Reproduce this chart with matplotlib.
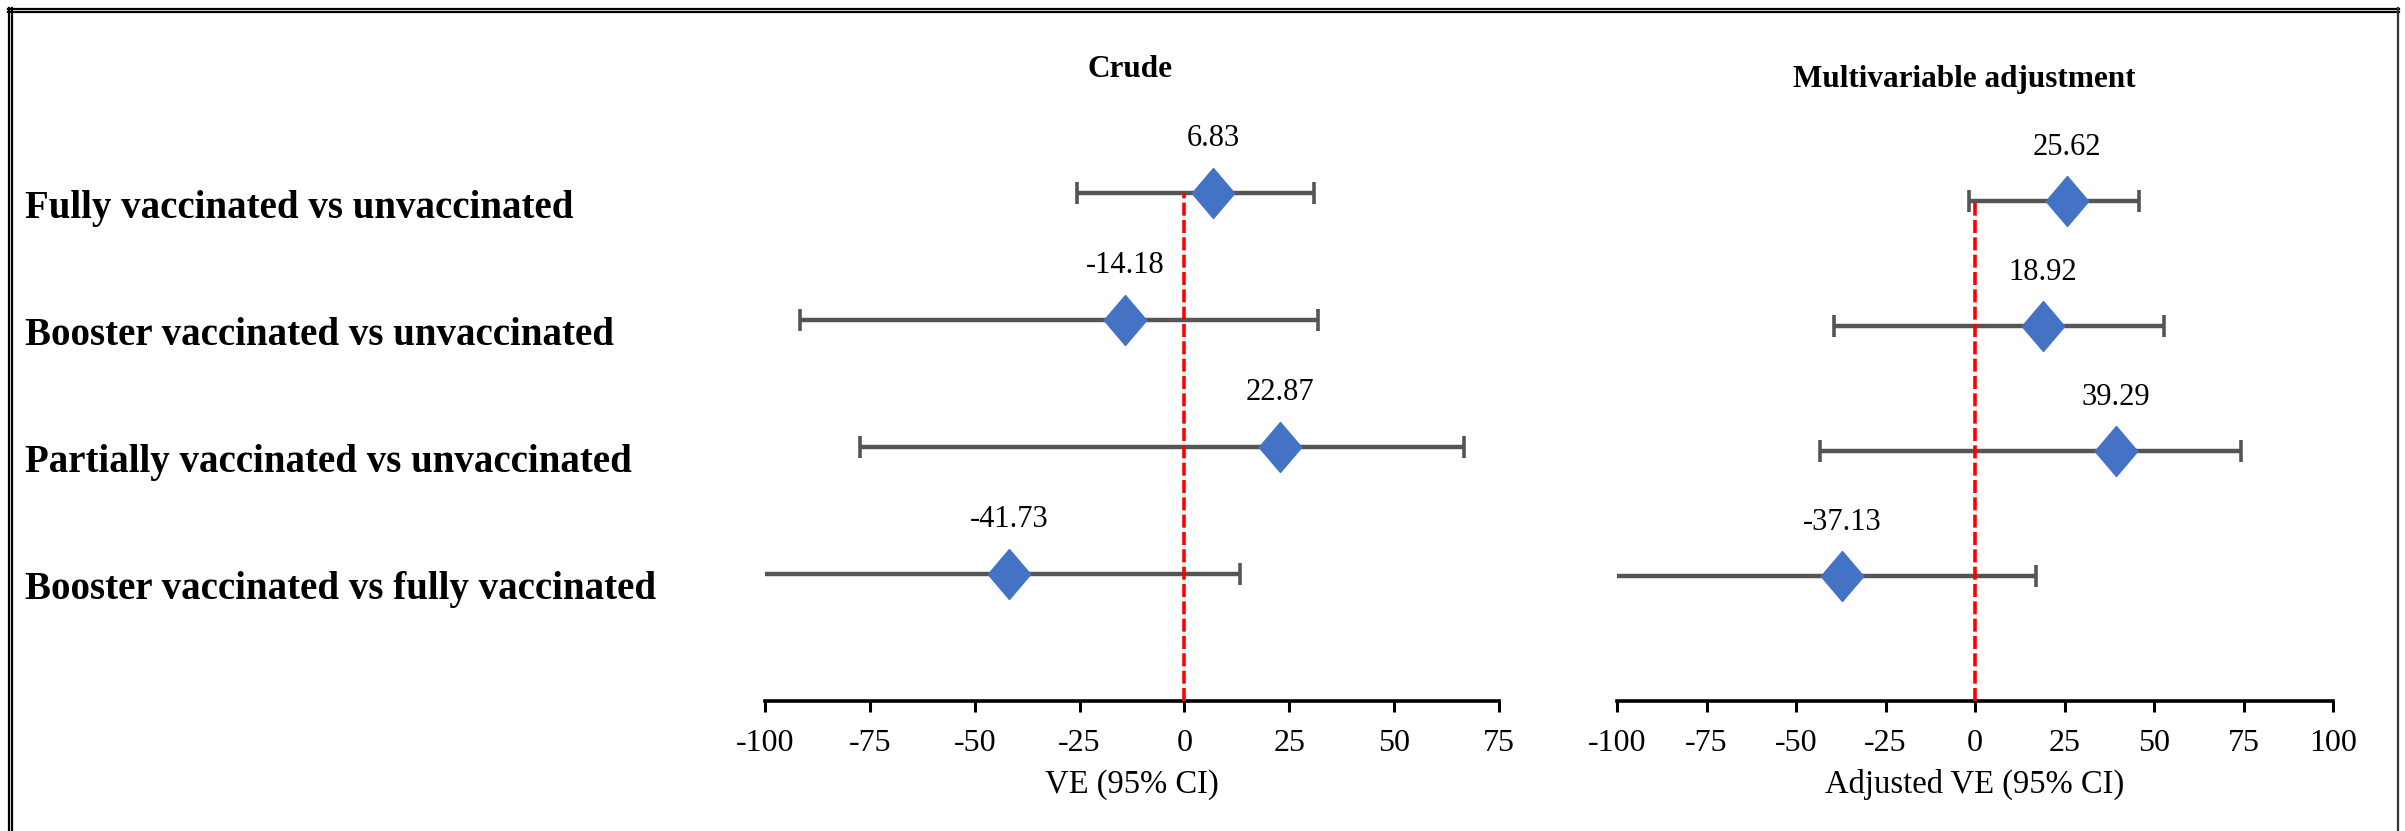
#!/usr/bin/env python
# -*- coding: utf-8 -*-

"""
Forest plot of vaccine effectiveness (crude vs multivariable adjusted).
"""

import matplotlib
matplotlib.use("Agg")
import matplotlib.pyplot as plt
from matplotlib.lines import Line2D
from matplotlib.transforms import blended_transform_factory

# Comparisons, top to bottom
comparisons = [
    "Fully vaccinated vs unvaccinated",
    "Booster vaccinated vs unvaccinated",
    "Partially vaccinated vs unvaccinated",
    "Booster vaccinated vs fully vaccinated",
]

# Crude VE with 95% CI (last lower bound runs off the axis)
crude_ve = [6.83, -14.18, 22.87, -41.73]
crude_lo = [-25.7, -91.6, -77.3, -140.0]
crude_hi = [30.9, 31.9, 66.6, 13.2]

# Adjusted VE with 95% CI
adj_ve = [25.62, 18.92, 39.29, -37.13]
adj_lo = [-1.8, -39.4, -43.3, -130.0]
adj_hi = [45.8, 52.9, 74.2, 16.9]

crude_ticks = [-100, -75, -50, -25, 0, 25, 50, 75]
adj_ticks = [-100, -75, -50, -25, 0, 25, 50, 75, 100]

SERIF = "Liberation Serif"
BAR_GREY = "#555555"
DIAMOND_BLUE = "#4472C4"
DIAMOND = [(0, 1), (0.85, 0), (0, -1), (-0.85, 0), (0, 1)]


def draw_panel(ax, ve, lo, hi, ticks, title, xlabel, title_x):
    """Draw one forest panel."""
    ypos = [4, 3, 2, 1]
    err = [[v - l for v, l in zip(ve, lo)], [h - v for v, h in zip(ve, hi)]]

    ax.errorbar(ve, ypos, xerr=err, fmt="none", ecolor=BAR_GREY,
                elinewidth=3.2, capsize=8, capthick=2.6, zorder=2)
    ax.vlines(0, 0, 4, colors="red", linewidth=2.6,
              linestyles=(0, (3.6, 1.2)), zorder=3)
    ax.plot(ve, ypos, linestyle="none", marker=DIAMOND, markersize=36,
            color=DIAMOND_BLUE, markeredgecolor=DIAMOND_BLUE, zorder=4)

    for v, y in zip(ve, ypos):
        ax.text(v, y + 0.43, f"{v:.2f}", ha="center", va="center",
                fontsize=22, family=SERIF)

    ax.text(title_x, 4.97, title, ha="center", va="center", fontsize=22.5,
            fontweight="bold", family=SERIF)

    ax.set_xlim(ticks[0], ticks[-1])
    ax.set_ylim(0, 5)
    ax.set_xticks(ticks)
    ax.set_xticklabels([str(t) for t in ticks], family=SERIF, fontsize=23)
    ax.set_yticks([])
    for side in ["top", "right", "left"]:
        ax.spines[side].set_visible(False)
    ax.spines["bottom"].set_linewidth(2.6)
    ax.tick_params(axis="x", direction="out", length=8, width=2.2, pad=12)
    ax.set_xlabel(xlabel, family=SERIF, fontsize=23.5, labelpad=8)


def main():
    W, H = 2405, 831
    fig = plt.figure(figsize=(W / 100, H / 100), dpi=100)

    ax_crude = fig.add_axes([765 / W, 130 / H, 734 / W, 635 / H])
    ax_adj = fig.add_axes([1617 / W, 130 / H, 716 / W, 625 / H])

    draw_panel(ax_crude, crude_ve, crude_lo, crude_hi, crude_ticks,
               "Crude", "VE (95% CI)", -13)
    draw_panel(ax_adj, adj_ve, adj_lo, adj_hi, adj_ticks,
               "Multivariable adjustment", "Adjusted VE (95% CI)", -3)

    # Row labels on the left
    trans = blended_transform_factory(fig.transFigure, ax_crude.transData)
    for label, y in zip(comparisons, [4, 3, 2, 1]):
        ax_crude.text(25 / W, y - 0.12, label, transform=trans, ha="left",
                      va="center", fontsize=28, fontweight="bold",
                      family=SERIF, clip_on=False)

    # Frame around the figure (double line left/top, single right)
    for x in (8.5, 11.5):
        fig.add_artist(Line2D([x / W, x / W], [0, 1 - 8 / H],
                              transform=fig.transFigure, color="black", lw=1.6))
    for y in (8.5, 11.5):
        fig.add_artist(Line2D([8 / W, 2399 / W], [1 - y / H, 1 - y / H],
                              transform=fig.transFigure, color="black", lw=1.6))
    fig.add_artist(Line2D([2398 / W, 2398 / W], [0, 1 - 8 / H],
                          transform=fig.transFigure, color="#333333", lw=1.6))

    fig.savefig("out.png", dpi=100)


if __name__ == "__main__":
    main()
